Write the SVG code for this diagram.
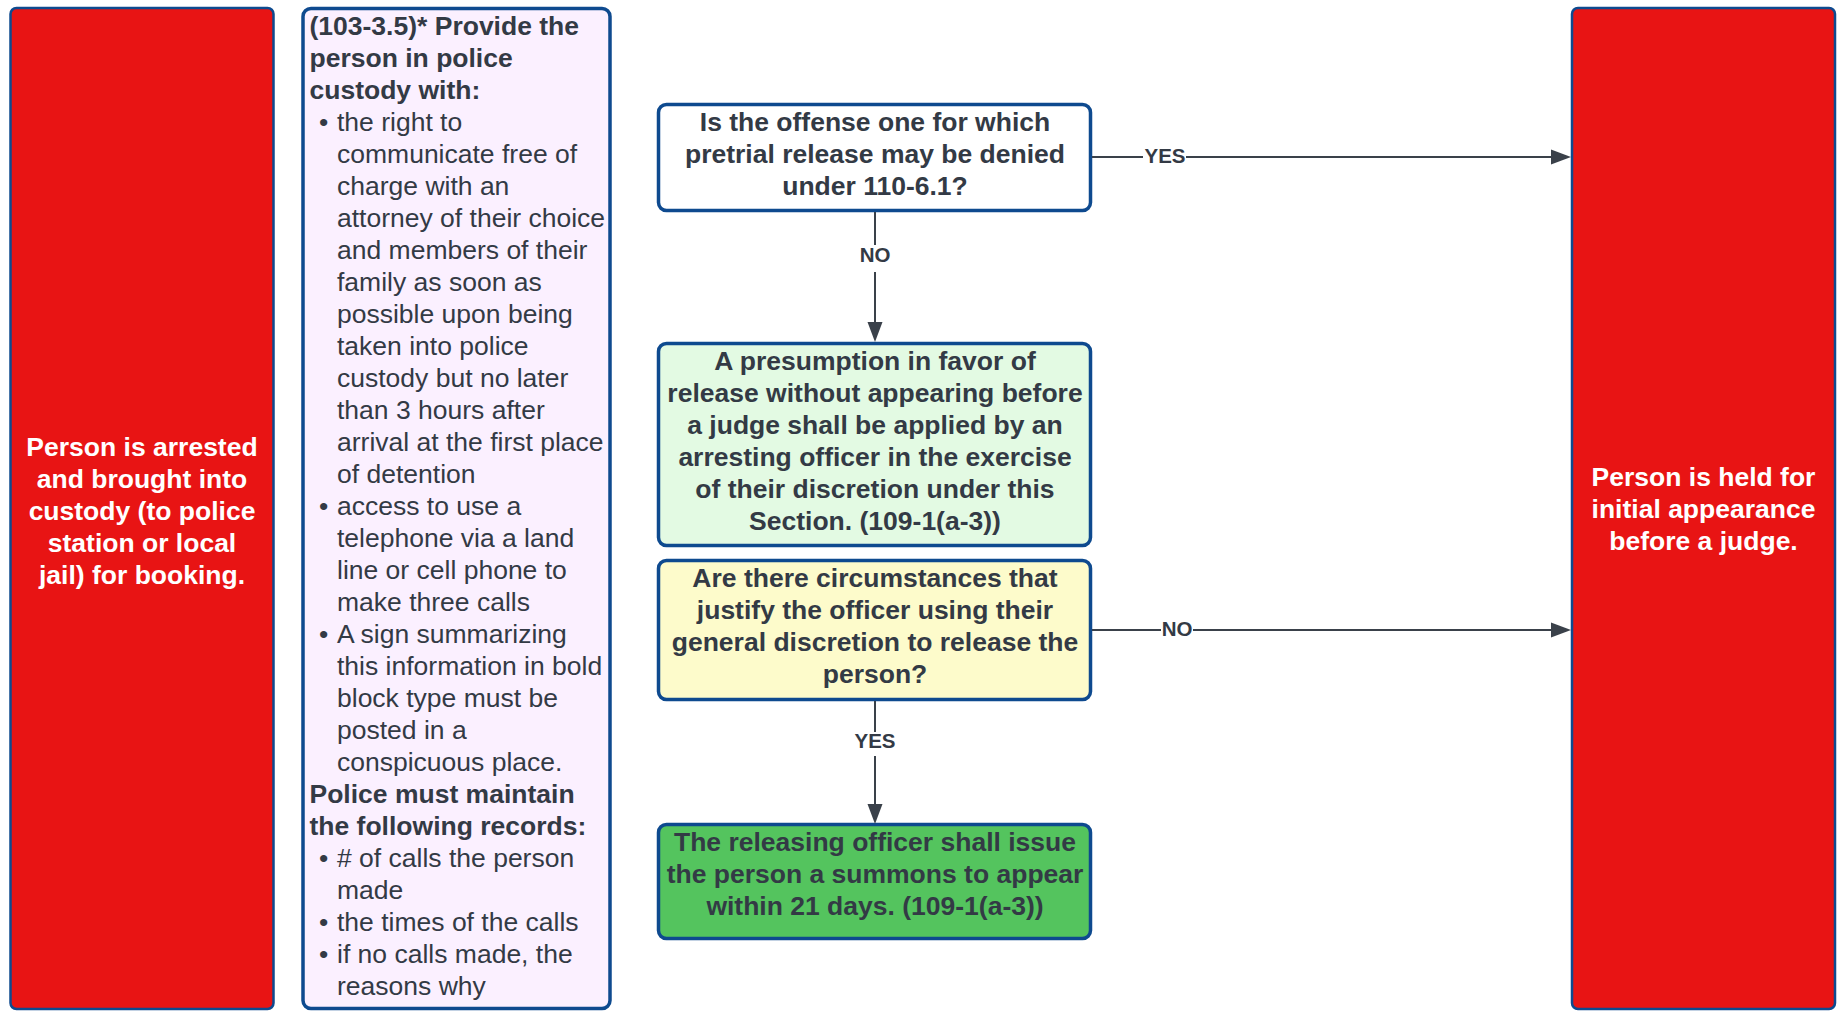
<svg xmlns="http://www.w3.org/2000/svg" width="1839" height="1011" viewBox="0 0 1839 1011">
<style>
text{font-family:"Liberation Sans",Arial,sans-serif;font-size:26.5px;}
.b{font-weight:bold;}
.w{fill:#ffffff;font-weight:bold;}
.d{fill:#333a45;}
.c{text-anchor:middle;}
.red{fill:#e81414;stroke:#0e4a8f;stroke-width:2.5;}
.node{stroke:#0e4a8f;stroke-width:3.5;}
.conn{stroke:#3a414a;stroke-width:2;fill:none;}
.head{fill:#3a414a;}
.lbl{font-size:20.5px;font-weight:bold;fill:#333a45;text-anchor:middle;}
.lbg{fill:#ffffff;}
</style>
<rect width="1839" height="1011" fill="#ffffff"/>

<g id="node-arrested">
<rect class="red" x="10.5" y="8" width="263" height="1001" rx="6"/>
<text class="w c" x="142" y="456">Person is arrested</text>
<text class="w c" x="142" y="488">and brought into</text>
<text class="w c" x="142" y="520">custody (to police</text>
<text class="w c" x="142" y="552">station or local</text>
<text class="w c" x="142" y="584">jail) for booking.</text>
</g>

<g id="node-rights">
<rect class="node" x="303" y="8.5" width="307" height="1000" rx="8" fill="#fbf0ff"/>
<g class="d">
<text class="b" x="309.5" y="35">(103-3.5)* Provide the</text>
<text class="b" x="309.5" y="67">person in police</text>
<text class="b" x="309.5" y="99">custody with:</text>
<text x="319" y="131">•</text>
<text x="337" y="131">the right to</text>
<text x="337" y="163">communicate free of</text>
<text x="337" y="195">charge with an</text>
<text x="337" y="227">attorney of their choice</text>
<text x="337" y="259">and members of their</text>
<text x="337" y="291">family as soon as</text>
<text x="337" y="323">possible upon being</text>
<text x="337" y="355">taken into police</text>
<text x="337" y="387">custody but no later</text>
<text x="337" y="419">than 3 hours after</text>
<text x="337" y="451">arrival at the first place</text>
<text x="337" y="483">of detention</text>
<text x="319" y="515">•</text>
<text x="337" y="515">access to use a</text>
<text x="337" y="547">telephone via a land</text>
<text x="337" y="579">line or cell phone to</text>
<text x="337" y="611">make three calls</text>
<text x="319" y="643">•</text>
<text x="337" y="643">A sign summarizing</text>
<text x="337" y="675">this information in bold</text>
<text x="337" y="707">block type must be</text>
<text x="337" y="739">posted in a</text>
<text x="337" y="771">conspicuous place.</text>
<text class="b" x="309.5" y="803">Police must maintain</text>
<text class="b" x="309.5" y="835">the following records:</text>
<text x="319" y="867">•</text>
<text x="337" y="867"># of calls the person</text>
<text x="337" y="899">made</text>
<text x="319" y="931">•</text>
<text x="337" y="931">the times of the calls</text>
<text x="319" y="963">•</text>
<text x="337" y="963">if no calls made, the</text>
<text x="337" y="995">reasons why</text>
</g>
</g>

<g id="node-offense">
<rect class="node" x="658.5" y="104.5" width="432" height="106" rx="8" fill="#ffffff"/>
<text class="b d c" x="875" y="131">Is the offense one for which</text>
<text class="b d c" x="875" y="163">pretrial release may be denied</text>
<text class="b d c" x="875" y="195">under 110-6.1?</text>
</g>

<g id="node-presumption">
<rect class="node" x="658.5" y="343.5" width="432" height="202" rx="8" fill="#e3fae3"/>
<text class="b d c" x="875" y="370">A presumption in favor of</text>
<text class="b d c" x="875" y="402">release without appearing before</text>
<text class="b d c" x="875" y="434">a judge shall be applied by an</text>
<text class="b d c" x="875" y="466">arresting officer in the exercise</text>
<text class="b d c" x="875" y="498">of their discretion under this</text>
<text class="b d c" x="875" y="530">Section. (109-1(a-3))</text>
</g>

<g id="node-circumstances">
<rect class="node" x="658.5" y="560.5" width="432" height="139" rx="8" fill="#fdfbcb"/>
<text class="b d c" x="875" y="587">Are there circumstances that</text>
<text class="b d c" x="875" y="619">justify the officer using their</text>
<text class="b d c" x="875" y="651">general discretion to release the</text>
<text class="b d c" x="875" y="683">person?</text>
</g>

<g id="node-summons">
<rect class="node" x="658.5" y="824.5" width="432" height="114" rx="8" fill="#54c45e"/>
<text class="b d c" x="875" y="851">The releasing officer shall issue</text>
<text class="b d c" x="875" y="883">the person a summons to appear</text>
<text class="b d c" x="875" y="915">within 21 days. (109-1(a-3))</text>
</g>

<g id="node-held">
<rect class="red" x="1572" y="8" width="263" height="1001" rx="6"/>
<text class="w c" x="1703.5" y="486">Person is held for</text>
<text class="w c" x="1703.5" y="518">initial appearance</text>
<text class="w c" x="1703.5" y="550">before a judge.</text>
</g>

<g id="connectors">
<line class="conn" x1="1092" y1="157" x2="1552" y2="157"/>
<polygon class="head" points="1571,157 1551,149.5 1551,164.5"/>
<rect class="lbg" x="1143" y="145" width="43" height="13"/>
<text class="lbl" x="1165" y="163">YES</text>

<line class="conn" x1="1092" y1="630" x2="1552" y2="630"/>
<polygon class="head" points="1571,630 1551,622.5 1551,637.5"/>
<rect class="lbg" x="1161" y="618" width="32" height="13"/>
<text class="lbl" x="1177" y="636">NO</text>

<line class="conn" x1="875" y1="212" x2="875" y2="322"/>
<polygon class="head" points="875,342 867.5,322 882.5,322"/>
<rect class="lbg" x="857" y="245" width="36" height="27"/>
<text class="lbl" x="875" y="262">NO</text>

<line class="conn" x1="875" y1="701" x2="875" y2="804"/>
<polygon class="head" points="875,824 867.5,804 882.5,804"/>
<rect class="lbg" x="851" y="732" width="48" height="24"/>
<text class="lbl" x="875" y="748">YES</text>
</g>
</svg>
